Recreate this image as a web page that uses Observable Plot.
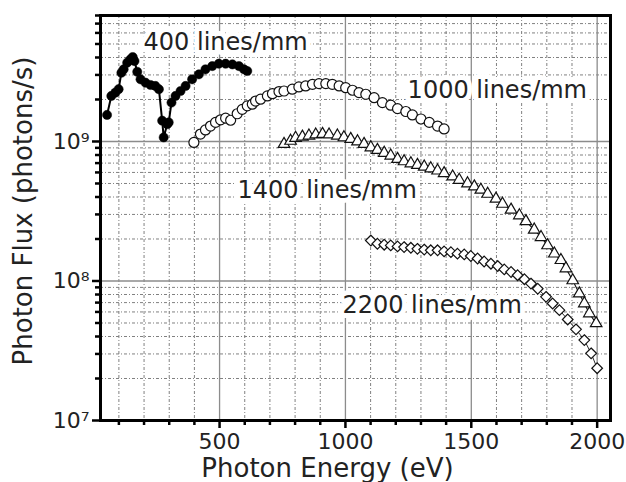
<!DOCTYPE html>
<html>
<head>
<meta charset="utf-8">
<script src="https://cdn.jsdelivr.net/npm/d3@7"></script>
<script src="https://cdn.jsdelivr.net/npm/@observablehq/plot@0.6"></script>
<style>
  html, body { margin: 0; padding: 0; background: white; }
</style>
</head>
<body>
<div id="chart"></div>
<script>
// 400 lines/mm (filled circles with line)
const energy400 = [53,70,86,99,110,119,133,146,155,162,173,186,206,226,245,259,272,278,292,298,309,325,345,365,391,418,444,471,497,524,551,577,597,610];
const flux400 = [1.55e9,2.12e9,2.24e9,2.37e9,3.11e9,3.29e9,3.67e9,3.88e9,4.03e9,3.77e9,3.16e9,2.79e9,2.64e9,2.54e9,2.50e9,2.37e9,1.41e9,1.07e9,1.33e9,1.37e9,1.90e9,2.12e9,2.30e9,2.50e9,2.79e9,3.03e9,3.29e9,3.47e9,3.61e9,3.61e9,3.57e9,3.47e9,3.29e9,3.20e9];

// 1000 lines/mm (open circles)
const energy1000 = [398,424,444,464,484,504,524,544,570,590,610,630,643,663,690,710,736,756,789,815,842,869,895,922,948,975,1001,1028,1054,1081,1114,1147,1180,1207,1240,1266,1300,1333,1366,1392];
const flux1000 = [0.984e9,1.13e9,1.21e9,1.29e9,1.37e9,1.43e9,1.47e9,1.42e9,1.58e9,1.70e9,1.80e9,1.85e9,1.95e9,2.01e9,2.12e9,2.20e9,2.28e9,2.30e9,2.37e9,2.46e9,2.50e9,2.57e9,2.60e9,2.60e9,2.57e9,2.50e9,2.43e9,2.33e9,2.24e9,2.18e9,2.06e9,1.90e9,1.82e9,1.72e9,1.64e9,1.55e9,1.45e9,1.37e9,1.29e9,1.23e9];

// 1400 lines/mm (open triangles with thin line)
const energy1400 = [756,782,802,829,855,882,909,935,968,994,1021,1048,1074,1101,1127,1154,1180,1207,1233,1260,1286,1313,1339,1366,1392,1426,1452,1485,1512,1538,1565,1598,1624,1658,1691,1717,1750,1777,1803,1830,1856,1876,1903,1929,1949,1969,1996];
const flux1400 = [0.958e9,1.01e9,1.06e9,1.08e9,1.10e9,1.12e9,1.13e9,1.12e9,1.10e9,1.07e9,1.04e9,1.0e9,0.958e9,0.906e9,0.868e9,0.827e9,0.791e9,0.748e9,0.72e9,0.696e9,0.678e9,0.659e9,0.641e9,0.618e9,0.591e9,0.56e9,0.53e9,0.50e9,0.475e9,0.45e9,0.421e9,0.388e9,0.357e9,0.324e9,0.295e9,0.268e9,0.233e9,0.206e9,0.18e9,0.157e9,0.141e9,0.123e9,0.101e9,0.0813e9,0.069e9,0.0585e9,0.0497e9];

// 2200 lines/mm (open diamonds)
const energy2200 = [1101,1127,1154,1180,1207,1233,1260,1286,1313,1339,1366,1392,1419,1445,1472,1498,1525,1551,1578,1605,1631,1658,1684,1711,1737,1764,1797,1823,1850,1883,1916,1949,1976,2000];
const flux2200 = [1.95e8,1.85e8,1.82e8,1.80e8,1.77e8,1.75e8,1.73e8,1.70e8,1.68e8,1.66e8,1.66e8,1.63e8,1.61e8,1.57e8,1.55e8,1.51e8,1.45e8,1.38e8,1.33e8,1.28e8,1.21e8,1.16e8,1.10e8,1.03e8,0.958e8,0.88e8,0.77e8,0.69e8,0.618e8,0.53e8,0.45e8,0.377e8,0.303e8,0.237e8];

// Series labels (anchor in data units)
const labelText = ["400 lines/mm", "1000 lines/mm", "1400 lines/mm", "2200 lines/mm"];
const labelEnergy = [198, 1247, 571, 988];
const labelFlux = [5.1e9, 2.31e9, 4.5e8, 6.64e7];

// Ticks
const xMajor = [500, 1000, 1500, 2000];
const xMinor = [100,200,300,400,600,700,800,900,1100,1200,1300,1400,1600,1700,1800,1900];
const yMajor = [1e7, 1e8, 1e9];
const yMinor = [2e7,3e7,4e7,5e7,6e7,7e7,8e7,9e7,2e8,3e8,4e8,5e8,6e8,7e8,8e8,9e8,2e9,3e9,4e9,5e9,6e9,7e9,8e9];
const xTitle = "Photon Energy (eV)";
const yTitle = "Photon Flux (photons/s)";

const sup = {"7": "\u2077", "8": "\u2078", "9": "\u2079"};
const toSeries = (xs, ys) => xs.map((x, i) => ({x, y: ys[i]}));
const s400 = toSeries(energy400, flux400);
const s1000 = toSeries(energy1000, flux1000);
const s1400 = toSeries(energy1400, flux1400);
const s2200 = toSeries(energy2200, flux2200);
const labels = labelText.map((t, i) => ({t, x: labelEnergy[i], y: labelFlux[i]}));

const minorGrid = {stroke: "#808080", strokeWidth: 1, strokeDasharray: "3,2,1,2"};
const majorGrid = {stroke: "#8c8c8c", strokeWidth: 1.3};

const chart = Plot.plot({
  width: 626,
  height: 482,
  marginLeft: 100,
  marginRight: 16,
  marginTop: 15,
  marginBottom: 62,
  style: {fontFamily: "DejaVu Sans", background: "white", color: "#222"},
  x: {domain: [27, 2053]},
  y: {type: "log", domain: [1e7, 8e9]},
  marks: [
    Plot.ruleX(xMinor, minorGrid),
    Plot.ruleY(yMinor, minorGrid),
    Plot.ruleX(xMajor, majorGrid),
    Plot.ruleY(yMajor, majorGrid),
    Plot.axisX(xMinor, {tickSize: 5, strokeWidth: 2.5, stroke: "black", tickFormat: () => "", label: null}),
    Plot.axisX(xMajor, {tickSize: 8, tickPadding: 5, strokeWidth: 2.5, stroke: "black", fontSize: 22, tickFormat: d => String(d), label: null}),
    Plot.axisY(yMinor, {tickSize: 5, strokeWidth: 2.5, stroke: "black", tickFormat: () => "", label: null}),
    Plot.axisY(yMajor, {tickSize: 8, tickPadding: 3, strokeWidth: 2.5, stroke: "black", fontSize: 22,
      tickFormat: d => "10" + sup[String(Math.round(Math.log10(d)))], label: null}),
    // series
    Plot.line(s400, {x: "x", y: "y", stroke: "black", strokeWidth: 2}),
    Plot.dot(s400, {x: "x", y: "y", r: 4.6, fill: "black", stroke: "black", strokeWidth: 0.5}),
    Plot.dot(s1000, {x: "x", y: "y", r: 5, fill: "white", stroke: "#111", strokeWidth: 1.2}),
    Plot.line(s1400, {x: "x", y: "y", stroke: "#111", strokeWidth: 1.1}),
    Plot.dot(s1400, {x: "x", y: "y", r: 4.3, symbol: "triangle", fill: "white", stroke: "#111", strokeWidth: 1.2}),
    Plot.line(s2200, {x: "x", y: "y", stroke: "#111", strokeWidth: 0.9}),
    Plot.dot(s2200, {x: "x", y: "y", r: 4.8, symbol: "diamond2", fill: "white", stroke: "#111", strokeWidth: 1.2}),
    // series labels
    Plot.text(labels, {x: "x", y: "y", text: "t", textAnchor: "start", lineAnchor: "middle",
      fontSize: 24, fill: "#222", stroke: "white", strokeWidth: 10, strokeLinejoin: "round"}),
    // axis titles
    Plot.text([xTitle], {frameAnchor: "bottom", text: d => d, textAnchor: "middle", dx: -28, dy: 48, lineAnchor: "middle", fontSize: 26, fill: "#222"}),
    Plot.text([yTitle], {frameAnchor: "left", text: d => d, textAnchor: "middle", rotate: -90, dx: -77, dy: -7, lineAnchor: "middle", fontSize: 26, fill: "#222"}),
    Plot.frame({stroke: "black", strokeWidth: 3})
  ]
});
document.getElementById("chart").appendChild(chart);
</script>
</body>
</html>
